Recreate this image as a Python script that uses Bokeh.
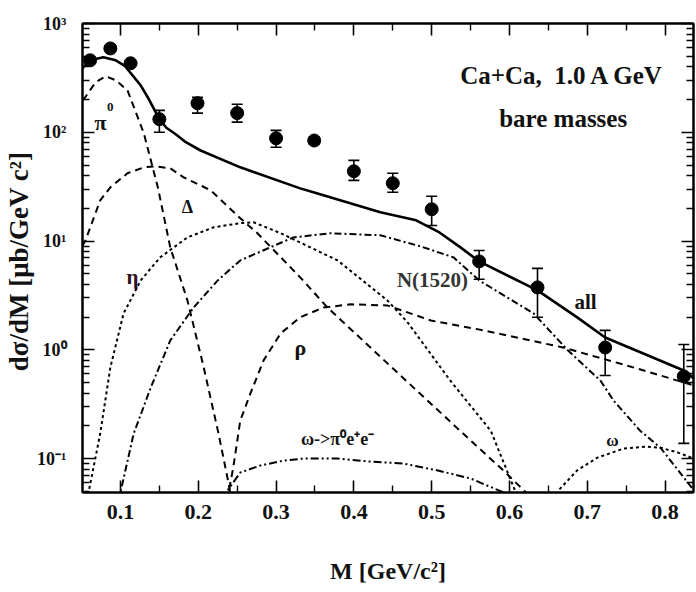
from bokeh.plotting import figure
from bokeh.models import (FixedTicker, LinearAxis, LogAxis, Whisker, TeeHead,
                          ColumnDataSource, Label, Range1d)
from bokeh.embed import file_html
from bokeh.resources import INLINE

# ---------------- data ----------------
# measured points (M in GeV/c^2, dsigma/dM in mub/GeV c^2) with error bars
pts_m  = [0.061, 0.087, 0.113, 0.150, 0.199, 0.250, 0.300, 0.349, 0.400, 0.450, 0.500, 0.561, 0.636, 0.723, 0.824]
pts_v  = [459, 590, 431, 132, 185, 150, 88, 84, 43.8, 34, 19.6, 6.5, 3.75, 1.05, 0.57]
pts_hi = [480, 615, 450, 159, 210, 181, 104, 90, 55.2, 42, 25.8, 8.2, 5.61, 1.51, 1.12]
pts_lo = [440, 565, 412, 100, 150, 124, 72.8, 78, 36.1, 28.1, 13.9, 4.45, 1.99, 0.58, 0.138]

# total ("all")
all_m = [0.051, 0.061, 0.078, 0.094, 0.106, 0.126, 0.135, 0.150, 0.159, 0.171, 0.184, 0.203,
         0.254, 0.331, 0.348, 0.434, 0.480, 0.510, 0.537, 0.561, 0.636, 0.687, 0.723, 0.824, 0.837]
all_v = [388, 459, 490, 459, 405, 270, 210, 132, 110, 96, 81, 68,
         47.6, 30.5, 28.1, 18.4, 15.5, 12.0, 8.75, 6.5, 3.52, 1.99, 1.30, 0.646, 0.546]

# pi0 Dalitz
pi0_m = [0.052, 0.068, 0.081, 0.094, 0.109, 0.130, 0.148, 0.164, 0.186, 0.207, 0.226, 0.239, 0.243]
pi0_v = [197, 288, 327, 301, 243, 98, 31.2, 8.75, 2.85, 0.69, 0.170, 0.059, 0.041]

# Delta Dalitz
del_m = [0.051, 0.055, 0.074, 0.087, 0.109, 0.130, 0.145, 0.164, 0.181, 0.216, 0.254, 0.276,
         0.331, 0.366, 0.460, 0.546, 0.592, 0.621, 0.627]
del_v = [9.0, 10.1, 23.7, 31.2, 42, 47.6, 48.7, 46.6, 38.6, 29.3, 16.2, 11.8,
         4.64, 2.45, 0.58, 0.156, 0.078, 0.049, 0.043]

# eta Dalitz
eta_m = [0.058, 0.059, 0.074, 0.087, 0.104, 0.126, 0.151, 0.186, 0.220, 0.254, 0.271, 0.306,
         0.379, 0.443, 0.469, 0.524, 0.576, 0.608, 0.610]
eta_v = [0.041, 0.049, 0.170, 0.689, 2.16, 4.35, 7.08, 10.8, 13.4, 14.6, 14.9, 11.8,
         6.64, 2.85, 1.79, 0.52, 0.18, 0.049, 0.041]

# N(1520)
n15_m = [0.097, 0.100, 0.117, 0.139, 0.164, 0.194, 0.225, 0.254, 0.322, 0.370, 0.434, 0.486,
         0.528, 0.561, 0.631, 0.675, 0.717, 0.734, 0.768, 0.794, 0.837]
n15_v = [0.041, 0.049, 0.170, 0.451, 1.22, 2.45, 4.35, 6.64, 10.8, 11.8, 11.3, 8.93,
         7.08, 4.35, 2.16, 0.99, 0.52, 0.34, 0.18, 0.126, 0.051]

# rho
rho_m = [0.238, 0.239, 0.245, 0.254, 0.267, 0.284, 0.306, 0.331, 0.361, 0.396, 0.443, 0.499,
         0.567, 0.669, 0.759, 0.837]
rho_v = [0.041, 0.049, 0.083, 0.224, 0.397, 0.80, 1.42, 1.99, 2.45, 2.62, 2.56, 1.86,
         1.51, 1.05, 0.69, 0.47]

# omega -> pi0 e+ e-
opi_m = [0.234, 0.236, 0.254, 0.280, 0.310, 0.335, 0.379, 0.421, 0.464, 0.508, 0.550, 0.592, 0.601]
opi_v = [0.041, 0.049, 0.0745, 0.0865, 0.096, 0.100, 0.100, 0.094, 0.090, 0.0777, 0.0656, 0.049, 0.041]

# omega
om_m = [0.660, 0.663, 0.687, 0.713, 0.747, 0.775, 0.794, 0.816, 0.837]
om_v = [0.041, 0.051, 0.078, 0.102, 0.124, 0.129, 0.126, 0.114, 0.100]

x_major = [0.1, 0.2, 0.3, 0.4, 0.5, 0.6, 0.7, 0.8]
x_minor = [0.15, 0.25, 0.35, 0.45, 0.55, 0.65, 0.75]
y_major = [0.1, 1, 10, 100, 1000]
y_labels = ["10\u207b\u00b9", "10\u2070", "10\u00b9", "10\u00b2", "10\u00b3"]
y_minor = [k * 10.0 ** e for e in range(-2, 3) for k in range(2, 10)]

SERIF = "Liberation Serif"

p = figure(width=696, height=592, y_axis_type="log",
           x_range=Range1d(0.0512, 0.8365), y_range=Range1d(0.0488, 1000),
           output_backend="svg", toolbar_location=None,
           min_border_left=82, min_border_right=3, min_border_top=23, min_border_bottom=100,
           background_fill_color="white", border_fill_color="white")
p.grid.visible = False
p.outline_line_color = "black"
p.outline_line_width = 2

xt = FixedTicker(ticks=x_major, minor_ticks=x_minor)
yt = FixedTicker(ticks=y_major, minor_ticks=y_minor)

def style_axis(ax, ticker):
    ax.ticker = ticker
    ax.axis_line_width = 2
    ax.major_tick_in = 12
    ax.major_tick_out = 0
    ax.minor_tick_in = 7
    ax.minor_tick_out = 0
    ax.major_tick_line_width = 1.6
    ax.minor_tick_line_width = 1.4
    ax.major_label_text_font = SERIF
    ax.major_label_text_font_style = "bold"
    ax.major_label_text_color = "#111111"
    ax.axis_label_text_font = SERIF
    ax.axis_label_text_font_style = "bold"
    ax.axis_label_text_color = "#111111"

xa = p.xaxis[0]
style_axis(xa, xt)
xa.major_label_text_font_size = "22px"
xa.major_label_standoff = 12
xa.axis_label = "M [GeV/c\u00b2]"
xa.axis_label_text_font_size = "24px"
xa.axis_label_standoff = 36

ya = p.yaxis[0]
style_axis(ya, yt)
ya.major_label_text_font_size = "18px"
ya.major_label_standoff = 16
ya.major_label_overrides = {v: s for v, s in zip(y_major, y_labels)}
ya.axis_label = "d\u03c3/dM  [\u03bcb/GeV c\u00b2]"
ya.axis_label_text_font_size = "27px"
ya.axis_label_standoff = 0

top = LinearAxis()
style_axis(top, xt)
top.major_label_text_font_size = "1px"
top.major_label_text_alpha = 0
top.major_label_standoff = 0
p.add_layout(top, "above")

right = LogAxis()
style_axis(right, yt)
right.major_label_text_font_size = "1px"
right.major_label_text_alpha = 0
right.major_label_standoff = 0
p.add_layout(right, "right")

# error bars
src = ColumnDataSource(dict(m=pts_m, lo=pts_lo, hi=pts_hi))
w = Whisker(base="m", lower="lo", upper="hi", source=src, line_width=1.6, line_color="black",
            upper_head=TeeHead(size=11, line_width=1.6, line_color="black"),
            lower_head=TeeHead(size=11, line_width=1.6, line_color="black"),
            level="underlay")
p.add_layout(w)

# curves
p.line(pi0_m, pi0_v, line_color="black", line_width=2, line_dash="7 5")
p.line(del_m, del_v, line_color="black", line_width=2, line_dash="7 5")
p.line(rho_m, rho_v, line_color="black", line_width=2, line_dash="7 5")
p.line(eta_m, eta_v, line_color="black", line_width=2, line_dash="3 3")
p.line(n15_m, n15_v, line_color="black", line_width=2, line_dash="7 3 2 3")
p.line(opi_m, opi_v, line_color="black", line_width=2, line_dash="8 3 2 3 2 3")
p.line(om_m, om_v, line_color="black", line_width=2, line_dash="3 3")
p.line(all_m, all_v, line_color="black", line_width=2.6)

p.scatter(pts_m, pts_v, size=13, color="black")

def lab(x, y, t, size, style="bold", color="#111111"):
    p.add_layout(Label(x=x, y=y, text=t, text_font=SERIF, text_font_style=style,
                       text_font_size=size, text_color=color,
                       text_align="center", text_baseline="middle"))

lab(0.668, 334, "Ca+Ca,\u00a0\u00a01.0 A GeV", "25px")
lab(0.669, 134, "bare masses", "25px")
lab(0.0743, 124, "\u03c0", "22px")
lab(0.087, 170, "0", "13px")
lab(0.186, 20.4, "\u0394", "18px")
lab(0.1154, 4.63, "\u03b7", "21px", color="#2a1020")
lab(0.3314, 1.05, "\u03c1", "22px")
lab(0.501, 4.35, "N(1520)", "21px", color="#333333")
lab(0.6977, 2.73, "all", "21px")
lab(0.379, 0.153, "\u03c9->\u03c0\u2070e\u207ae\u207b", "18px")
lab(0.7324, 0.147, "\u03c9", "17px")

open("out.html", "w").write(file_html(p, INLINE))
